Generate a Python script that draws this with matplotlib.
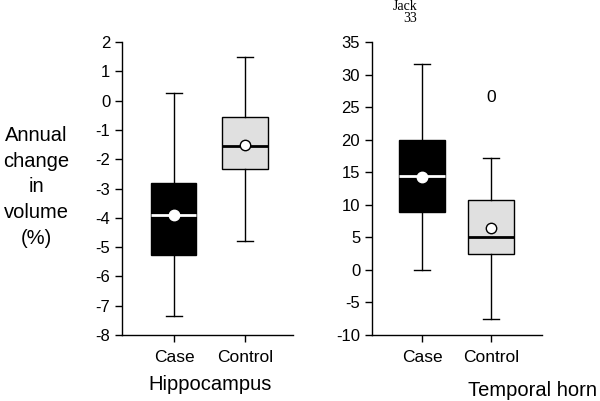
import matplotlib
matplotlib.use("Agg")
import matplotlib.pyplot as plt

plt.rcParams['font.family'] = ['Liberation Sans', 'DejaVu Sans']
plt.rcParams['axes.unicode_minus'] = False

categories = ["Case", "Control"]

# Hippocampus stats: whislo, q1, med, q3, whishi, mean
hip_whislo = [-7.35, -4.78]
hip_q1 = [-5.27, -2.32]
hip_med = [-3.92, -1.55]
hip_q3 = [-2.82, -0.56]
hip_whishi = [0.25, 1.48]
hip_mean = [-3.92, -1.5]

# Temporal horn stats
th_whislo = [0.0, -7.5]
th_q1 = [8.9, 2.4]
th_med = [14.4, 5.0]
th_q3 = [20.0, 10.7]
th_whishi = [31.6, 17.2]
th_mean = [14.3, 6.5]
th_outlier_label = "0"
th_outlier_value = 26.4

case_face = "black"
ctrl_face = "#e0e0e0"


def make_stats(lo, q1, med, q3, hi, mean):
    return [dict(whislo=lo[i], q1=q1[i], med=med[i], q3=q3[i], whishi=hi[i],
                 mean=mean[i], fliers=[], label=categories[i]) for i in range(len(lo))]


def draw(ax, stats, width):
    pos = [1, 2]
    for i, st in enumerate(stats):
        face = case_face if i == 0 else ctrl_face
        medc = "white" if i == 0 else "black"
        mean_edge = "white" if i == 0 else "black"
        ax.bxp([st], positions=[pos[i]], widths=width, patch_artist=True,
               showmeans=True, showfliers=False,
               boxprops=dict(facecolor=face, edgecolor="black", linewidth=1.0),
               medianprops=dict(color=medc, linewidth=2.0),
               whiskerprops=dict(color="black", linewidth=1.0),
               capprops=dict(color="black", linewidth=1.0),
               capwidths=0.22,
               meanprops=dict(marker="o", markerfacecolor="white",
                              markeredgecolor=mean_edge, markersize=7.5,
                              markeredgewidth=1.0))
    for s in ["top", "right"]:
        ax.spines[s].set_visible(False)
    ax.spines["left"].set_linewidth(1.0)
    ax.spines["bottom"].set_linewidth(1.0)
    ax.tick_params(direction="out", length=5, width=1, labelsize=12, colors="black")
    ax.set_xticks(pos)
    ax.set_xticklabels(categories, fontsize=12.5)
    ax.tick_params(axis="x", pad=6)


fig = plt.figure(figsize=(6.0, 4.01), dpi=100)

ax1 = fig.add_axes([122 / 600, 1 - 335 / 401, 171 / 600, 293 / 401])
draw(ax1, make_stats(hip_whislo, hip_q1, hip_med, hip_q3, hip_whishi, hip_mean), 0.634)
ax1.set_xlim(0.268, 2.676)
ax1.set_ylim(-8, 2)
ax1.set_yticks(range(-8, 3))

ax2 = fig.add_axes([372 / 600, 1 - 335 / 401, 170 / 600, 293 / 401])
draw(ax2, make_stats(th_whislo, th_q1, th_med, th_q3, th_whishi, th_mean), 0.66)
ax2.set_xlim(0.275, 2.74)
ax2.set_ylim(-10, 35)
ax2.set_yticks(range(-10, 36, 5))
ax2.text(2, th_outlier_value, th_outlier_label, ha="center", va="center", fontsize=12.5)

fig.text(36 / 600, 1 - 187 / 401, "Annual\nchange\nin\nvolume\n(%)", ha="center", va="center",
         fontsize=14.5, linespacing=1.45)
fig.text(210 / 600, 1 - 385 / 401, "Hippocampus", ha="center", va="center", fontsize=14.5)
fig.text(532 / 600, 1 - 390 / 401, "Temporal horn", ha="center", va="center", fontsize=14.5)
fig.text(405 / 600, 1 - 6 / 401, "Jack", ha="center", va="center", fontsize=10,
         family=["Liberation Serif", "DejaVu Serif"])
fig.text(410 / 600, 1 - 19 / 401, "33", ha="center", va="center", fontsize=10,
         family=["Liberation Serif", "DejaVu Serif"])

fig.savefig("out.png", dpi=100)
